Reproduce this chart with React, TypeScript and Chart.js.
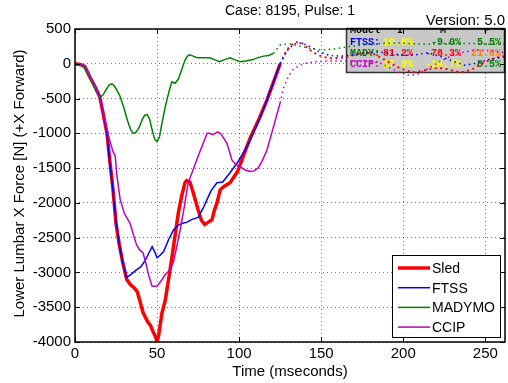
import React, { useEffect, useRef } from 'react';
import { Chart, registerables } from 'chart.js';
Chart.register(...registerables);

// ---------- data ----------
const sledT = [0,3,6,9,12,15,17,19.5,21,23,25,27,29,31.5,34,36,38,40,41.5,43,44.5,46,47.5,49,50,51,53,55,56,58,60,62,63,65,67,68,70,72,75,77,79,81,83.5,85,86.5,88.5,91,94.5,97,99,103,107,112,117,121,125,128,131,135,139,143,147,151,156,162,167,172,177,182,187,192,197,202,207,212,217,222,227,232,237,242,247,252,257,262];
const sledV = [0,-10,-40,-190,-320,-470,-700,-1000,-1350,-1770,-2300,-2600,-2850,-3100,-3180,-3220,-3280,-3450,-3580,-3650,-3720,-3760,-3850,-3920,-4000,-3900,-3580,-3400,-3250,-2950,-2630,-2300,-2140,-1900,-1710,-1680,-1700,-1850,-2100,-2250,-2310,-2280,-2240,-2100,-2000,-1810,-1760,-1710,-1620,-1550,-1300,-1050,-800,-520,-260,0,150,260,310,290,200,140,100,80,85,110,140,160,140,80,10,-50,-100,-120,-100,-70,-60,-80,-110,-120,-80,-10,50,90,110];

const ftssT = [0,3,6,9,12,15,17,19.5,21,23,25,27,29,31.5,34,37,40,42.5,45,47,48.5,50,52,54,57,60,63,66,68,71,75,78,80.5,83,86.5,90,94,99,103,107,112,117,121,125,129,133,138,143,148,155,162,170,178,185,192,200,208,215,222,230,237,245,252,262];
const ftssV = [0,0,-30,-170,-310,-470,-700,-1000,-1400,-1800,-2250,-2600,-2850,-3070,-3030,-2970,-2920,-2840,-2720,-2630,-2700,-2790,-2750,-2700,-2530,-2390,-2320,-2290,-2280,-2240,-2210,-2080,-1950,-1820,-1710,-1700,-1580,-1420,-1260,-1090,-820,-520,-260,0,180,280,300,250,180,120,110,130,160,170,150,120,130,160,110,40,-20,10,60,100];

const madyT = [0,3,5,7,10,13,15,17,19,21,22.5,24,26,27.5,30,32,34,35.5,37,39,41,42.5,44,45.5,47,48.5,50,51.5,53,55,56,57.5,59,61,63,65,67,68.5,70,72,74,76,79,82,85,88,91,94.5,97,100.5,104,108.5,111,115,118,121,125,130,136,143,150,157,165,175,185,195,205,215,225,235,245,255,262];
const madyV = [0,-5,-40,-110,-250,-400,-490,-450,-370,-300,-290,-320,-400,-470,-650,-820,-950,-1000,-990,-920,-800,-740,-730,-800,-950,-1080,-1120,-1050,-850,-620,-520,-380,-260,-280,-220,-85,50,110,130,110,90,85,85,85,60,30,60,85,60,30,40,60,85,110,120,150,270,290,260,220,200,210,240,270,290,300,290,280,290,290,290,280,280];

const ccipT = [0,3,6,9,12,15,17,19,21,23,24.5,25.5,27.5,30,33.5,35.5,37.5,39.5,41.5,43,45,47,50,52.5,55,58,60,62,64,66,69,72,75,78,80.5,82,84,87,89,92.5,94,95.5,98,100.5,104,107,109,111.5,114,117,121,125,127,130,133,137,141,146,152,160,170,180,186,192,198,204,210,216,222,230,237,245,252,262];
const ccipV = [0,0,-30,-170,-310,-490,-700,-900,-1090,-1250,-1330,-1600,-1950,-2150,-2290,-2450,-2600,-2680,-2720,-2850,-3050,-3200,-3200,-3120,-3030,-2960,-2850,-2630,-2400,-2140,-1710,-1520,-1330,-1150,-1000,-1000,-1020,-980,-1010,-1140,-1250,-1380,-1450,-1480,-1530,-1550,-1540,-1500,-1400,-1240,-900,-560,-350,-180,-80,-20,10,30,40,40,40,30,10,-60,-130,-170,-140,-60,30,120,170,200,190,160];

const seriesNames = ['Sled', 'FTSS', 'MADYMO', 'CCIP'];
const seriesColors = ['#ff0000', '#0000ff', '#008000', '#bf00bf'];
const seriesWidths = [3.5, 1.5, 1.5, 1.5];
const solidEnds = [125, 125, 121, 125];

const xTicks = [0, 50, 100, 150, 200, 250];
const yTicks = [500, 0, -500, -1000, -1500, -2000, -2500, -3000, -3500, -4000];
const xMin = 0, xMax = 262, yMin = -4000, yMax = 500;

const titleText = 'Case: 8195, Pulse: 1';
const versionText = 'Version: 5.0';
const xTitle = 'Time (mseconds)';
const yTitle = 'Lower Lumbar X Force [N] (+X Forward)';

const boxHeader = ['Model', 'I', 'M', 'P'];
const boxModels = ['FTSS:', 'MADY:', 'CCIP:'];
const boxModelColors = ['#0000ff', '#008000', '#cc00cc'];
const boxI = ['10.6%', '81.2%', '17.0%'];
const boxIColors = ['#ffff00', '#ff0000', '#ffff00'];
const boxM = ['-9.0%', '-78.3%', '-14.7%'];
const boxMColors = ['#008000', '#ff0000', '#ffff00'];
const boxP = ['5.5%', '21.6%', '8.5%'];
const boxPColors = ['#008000', '#ff8000', '#008000'];

const FONT = "'Liberation Sans', Arial, Helvetica, sans-serif";
const MONO = "'Liberation Mono', 'Courier New', monospace";

const decorPlugin = {
  id: 'decor',
  beforeDatasetsDraw(chart: any) {
    const { ctx, chartArea } = chart;
    const r = chartArea.right;
    const bx = r - 159, by = chartArea.top - 1, bw = 159, bh = 45;
    ctx.save();
    ctx.fillStyle = '#c8c8c8';
    ctx.fillRect(bx, by, bw, bh);
    ctx.beginPath();
    ctx.rect(bx, by, bw, bh);
    ctx.clip();
    ctx.font = `bold 10px ${MONO}`;
    ctx.textBaseline = 'alphabetic';
    ctx.fillStyle = '#000';
    ctx.textAlign = 'left';
    ctx.fillText(boxHeader[0], bx + 4, by + 5);
    ctx.textAlign = 'center';
    ctx.fillText(boxHeader[1], bx + 54, by + 5);
    ctx.fillText(boxHeader[2], bx + 97, by + 5);
    ctx.fillText(boxHeader[3], bx + 141, by + 5);
    const rowsY = [by + 17, by + 28, by + 39];
    for (let i = 0; i < 3; i++) {
      ctx.textAlign = 'left';
      ctx.fillStyle = boxModelColors[i];
      ctx.fillText(boxModels[i], bx + 4, rowsY[i]);
      ctx.textAlign = 'right';
      ctx.fillStyle = boxIColors[i];
      ctx.fillText(boxI[i], bx + 67, rowsY[i]);
      ctx.fillStyle = boxMColors[i];
      ctx.fillText(boxM[i], bx + 115, rowsY[i]);
      ctx.fillStyle = boxPColors[i];
      ctx.fillText(boxP[i], bx + 155, rowsY[i]);
    }
    ctx.restore();
    ctx.save();
    ctx.strokeStyle = '#333';
    ctx.lineWidth = 1.5;
    ctx.strokeRect(bx + 0.5, by + 0.5, bw - 1, bh - 1);
    ctx.restore();
  },
  afterDatasetsDraw(chart: any) {
    const { ctx, chartArea, scales } = chart;
    const { left, right, top, bottom } = chartArea;
    ctx.save();
    ctx.strokeStyle = '#000';
    ctx.lineWidth = 1;
    const tl = 5;
    ctx.beginPath();
    for (const v of xTicks) {
      const x = Math.round(scales.x.getPixelForValue(v)) + 0.5;
      ctx.moveTo(x, bottom); ctx.lineTo(x, bottom - tl);
      ctx.moveTo(x, top); ctx.lineTo(x, top + tl);
    }
    for (const v of yTicks) {
      const y = Math.round(scales.y.getPixelForValue(v)) + 0.5;
      ctx.moveTo(left, y); ctx.lineTo(left + tl, y);
      ctx.moveTo(right, y); ctx.lineTo(right - tl, y);
    }
    ctx.stroke();
    ctx.lineWidth = 1.5;
    ctx.strokeRect(left, top, right - left, bottom - top);
    const lx = 392, ly = 255, lw = 108, lh = 82;
    ctx.fillStyle = '#fff';
    ctx.fillRect(lx, ly, lw, lh);
    ctx.lineWidth = 1;
    ctx.strokeStyle = '#000';
    ctx.strokeRect(lx + 0.5, ly + 0.5, lw, lh);
    ctx.font = `14px ${FONT}`;
    ctx.textAlign = 'left';
    ctx.textBaseline = 'middle';
    for (let i = 0; i < seriesNames.length; i++) {
      const yy = ly + 13 + i * 19.7;
      ctx.strokeStyle = seriesColors[i];
      ctx.lineWidth = seriesWidths[i];
      ctx.beginPath();
      ctx.moveTo(lx + 6, yy);
      ctx.lineTo(lx + 38, yy);
      ctx.stroke();
      ctx.fillStyle = '#000';
      ctx.fillText(seriesNames[i], lx + 40, yy + 1);
    }
    ctx.restore();
  },
  afterDraw(chart: any) {
    const { ctx, chartArea } = chart;
    const cx = (chartArea.left + chartArea.right) / 2;
    const cy = (chartArea.top + chartArea.bottom) / 2;
    ctx.save();
    ctx.fillStyle = '#000';
    ctx.textBaseline = 'middle';
    ctx.textAlign = 'center';
    ctx.font = `14px ${FONT}`;
    ctx.fillText(titleText, cx, 11);
    ctx.textAlign = 'right';
    ctx.font = `15px ${FONT}`;
    ctx.fillText(versionText, 505, 21);
    ctx.textAlign = 'center';
    ctx.font = `15px ${FONT}`;
    ctx.fillText(xTitle, cx, 372);
    ctx.translate(20, cy - 2);
    ctx.rotate(-Math.PI / 2);
    ctx.fillText(yTitle, 0, 0);
    ctx.restore();
  },
};

function makePoints(t: number[], v: number[]) {
  return t.map((x, i) => ({ x, y: v[i] }));
}

export default function App() {
  const ref = useRef<HTMLCanvasElement | null>(null);
  useEffect(() => {
    const canvas = ref.current;
    if (!canvas) return;
    const all = [[sledT, sledV], [ftssT, ftssV], [madyT, madyV], [ccipT, ccipV]];
    const datasets = all.map(([t, v], i) => {
      const end = solidEnds[i];
      const dotW = i === 0 ? 2 : 1.5;
      return {
        label: seriesNames[i],
        data: makePoints(t as number[], v as number[]),
        borderColor: seriesColors[i],
        backgroundColor: seriesColors[i],
        borderWidth: seriesWidths[i],
        pointRadius: 0,
        tension: 0,
        fill: false,
        order: 3 - i,
        segment: {
          borderDash: (c: any) => (c.p0.parsed.x >= end - 0.01 ? [dotW, 3.5] : undefined),
          borderWidth: (c: any) => (c.p0.parsed.x >= end - 0.01 ? dotW : undefined),
        },
      };
    });
    const chart = new Chart(canvas, {
      type: 'line',
      data: { datasets },
      plugins: [decorPlugin],
      options: {
        responsive: false,
        animation: false,
        events: [],
        layout: { padding: { top: 29, right: 3, left: 0, bottom: 0 } },
        plugins: { legend: { display: false }, title: { display: false }, tooltip: { enabled: false } },
        scales: {
          x: {
            type: 'linear',
            min: xMin,
            max: xMax,
            afterBuildTicks: (s: any) => { s.ticks = xTicks.map((v) => ({ value: v })); },
            afterFit: (s: any) => { s.height = 41; },
            grid: { color: 'rgba(0,0,0,0.55)', lineWidth: 1, drawTicks: false, tickLength: 0 },
            border: { display: false, dash: [1, 3] },
            ticks: { color: '#000', font: { family: FONT, size: 15 }, padding: 3, maxRotation: 0, autoSkip: false, callback: (v: any) => String(v) },
          },
          y: {
            type: 'linear',
            min: yMin,
            max: yMax,
            afterBuildTicks: (s: any) => { s.ticks = yTicks.map((v) => ({ value: v })); },
            afterFit: (s: any) => { s.width = 75; },
            grid: { color: 'rgba(0,0,0,0.55)', lineWidth: 1, drawTicks: false, tickLength: 0 },
            border: { display: false, dash: [1, 3] },
            ticks: { color: '#000', font: { family: FONT, size: 15 }, padding: 4, autoSkip: false, callback: (v: any) => String(v) },
          },
        },
      } as any,
    });
    return () => chart.destroy();
  }, []);
  return (
    <div style={{ position: 'fixed', left: 0, top: 0, width: 508, height: 383, background: '#fff' }}>
      <canvas ref={ref} width={508} height={383} style={{ display: 'block', width: 508, height: 383 }} />
    </div>
  );
}
